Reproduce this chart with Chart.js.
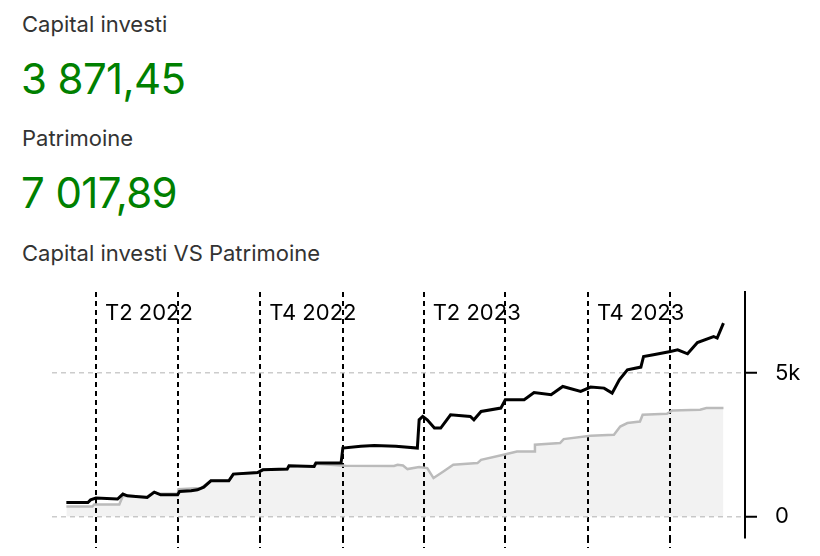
<!DOCTYPE html>
<html lang="fr">
<head>
<meta charset="utf-8">
<title>Capital investi VS Patrimoine</title>
<script src="https://cdn.jsdelivr.net/npm/chart.js@4"></script>
<style>
    html, body { margin: 0; padding: 0; background: #fff; }
    body { width: 820px; height: 556px; position: relative; overflow: hidden; font-family: Inter, "Noto Sans", sans-serif; }
    .label { position: absolute; left: 22px; font-size: 22px; line-height: 22px; color: #333; white-space: nowrap; }
    .value { position: absolute; left: 21px; font-size: 42px; line-height: 42px; letter-spacing: -0.6px; color: #008000; white-space: nowrap; }
    #chartBox { position: absolute; left: 0; top: 282px; width: 820px; height: 274px; }
</style>
</head>
<body>
<div class="label" style="top:13px">Capital investi</div>
<div class="value" style="top:58px">3&nbsp;871,45</div>
<div class="label" style="top:127px">Patrimoine</div>
<div class="value" style="top:172px">7&nbsp;017,89</div>
<div class="label" style="top:242px">Capital investi VS Patrimoine</div>
<div id="chartBox"><canvas id="chart"></canvas></div>

<script>
// dates -> day numbers counted from 1 April 2022
const origin = Date.UTC(2022, 3, 1);
function dayOf(s) {
    const [y, m, d] = s.split('-').map(Number);
    return (Date.UTC(y, m - 1, d) - origin) / 86400000;
}

const xMinDate = '2022-02-11';
const xMaxDate = '2024-03-24';
const quarterStarts = ['2022-04-01', '2022-07-01', '2022-10-01', '2023-01-01', '2023-04-01', '2023-07-01', '2023-10-01', '2024-01-01'];
const quarterLabelDates = ['2022-04-01', '2022-10-01', '2023-04-01', '2023-10-01'];
const quarterLabels = ['T2 2022', 'T4 2022', 'T2 2023', 'T4 2023'];

const yTickValues = [0, 5000];
const yTickLabels = ['0', '5k'];

const capitalDates = [
    '2022-02-27', '2022-03-28', '2022-03-30', '2022-04-27', '2022-05-01', '2022-05-28', '2022-06-04', '2022-06-12',
    '2022-07-01', '2022-07-02', '2022-07-27', '2022-08-07', '2022-08-27', '2022-09-01', '2022-09-28', '2022-10-03',
    '2022-10-31', '2022-11-02', '2022-11-30', '2022-12-01', '2023-01-04', '2023-02-27', '2023-03-03', '2023-03-09',
    '2023-03-14', '2023-03-27', '2023-04-05', '2023-04-12', '2023-04-23', '2023-05-04', '2023-05-31', '2023-06-04',
    '2023-06-29', '2023-07-14', '2023-08-02', '2023-08-03', '2023-08-31', '2023-09-04', '2023-10-04', '2023-10-30',
    '2023-11-06', '2023-11-14', '2023-11-28', '2023-12-01', '2023-12-28', '2024-01-03', '2024-02-03', '2024-02-10',
    '2024-02-29'
];
const capitalValues = [
    349, 349, 420, 420, 720, 690, 850, 790,
    790, 950, 990, 1245, 1245, 1479, 1520, 1629,
    1640, 1760, 1744, 1840, 1770, 1760, 1803, 1780,
    1653, 1723, 1688, 1339, 1570, 1803, 1862, 1978,
    2152, 2267, 2267, 2501, 2560, 2700, 2815, 2850,
    3139, 3258, 3314, 3547, 3582, 3697, 3722, 3781,
    3781
];

const patrimoineDates = [
    '2022-02-27', '2022-03-23', '2022-03-26', '2022-04-01', '2022-04-25', '2022-05-01', '2022-05-06', '2022-05-28',
    '2022-06-05', '2022-06-12', '2022-07-01', '2022-07-03', '2022-07-16', '2022-07-23', '2022-07-30', '2022-08-07',
    '2022-08-27', '2022-09-01', '2022-09-28', '2022-10-04', '2022-10-31', '2022-11-02', '2022-11-30', '2022-12-02',
    '2022-12-30', '2023-01-01', '2023-01-21', '2023-02-05', '2023-03-01', '2023-03-25', '2023-03-27', '2023-03-31',
    '2023-04-05', '2023-04-13', '2023-04-20', '2023-05-01', '2023-05-23', '2023-05-27', '2023-06-04', '2023-06-26',
    '2023-07-01', '2023-07-22', '2023-08-02', '2023-08-21', '2023-09-03', '2023-09-23', '2023-10-04', '2023-10-19',
    '2023-10-28', '2023-11-05', '2023-11-14', '2023-11-29', '2023-12-02', '2023-12-13', '2024-01-01', '2024-01-09',
    '2024-01-20', '2024-01-31', '2024-02-18', '2024-02-22', '2024-02-29'
];
const patrimoineValues = [
    488, 488, 580, 642, 607, 781, 720, 663,
    851, 757, 757, 872, 895, 931, 1025, 1245,
    1245, 1479, 1535, 1629, 1653, 1768, 1744, 1862,
    1862, 2386, 2450, 2476, 2450, 2386, 3373, 3488,
    3373, 3083, 3083, 3547, 3488, 3373, 3662, 3781,
    4070, 4070, 4325, 4245, 4534, 4360, 4513, 4478,
    4304, 4768, 5117, 5211, 5581, 5640, 5755, 5814,
    5675, 6069, 6278, 6222, 6746
];

const toPoints = (dates, values) => dates.map((d, i) => ({ x: dayOf(d), y: values[i] }));

// quarter names written at the top of the plot, just right of their line
const quarterLabelPlugin = {
    id: 'quarterLabels',
    beforeDatasetsDraw(chart) {
        const { ctx, chartArea, scales } = chart;
        ctx.save();
        ctx.font = '22px Inter, "Noto Sans", sans-serif';
        ctx.fillStyle = '#000';
        ctx.textBaseline = 'middle';
        ctx.textAlign = 'left';
        quarterLabels.forEach((label, i) => {
            const x = scales.x.getPixelForValue(dayOf(quarterLabelDates[i])) + 9;
            ctx.fillText(label, x, chartArea.top + 21);
        });
        ctx.restore();
    }
};

new Chart(document.getElementById('chart'), {
    type: 'line',
    data: {
        datasets: [
            {
                label: 'Patrimoine',
                data: toPoints(patrimoineDates, patrimoineValues),
                borderColor: '#000',
                borderWidth: 3,
                pointRadius: 0,
                tension: 0,
                fill: false
            },
            {
                label: 'Capital investi',
                data: toPoints(capitalDates, capitalValues),
                borderColor: '#bbb',
                borderWidth: 2.5,
                backgroundColor: 'rgba(0, 0, 0, 0.05)',
                pointRadius: 0,
                tension: 0,
                fill: 'origin'
            }
        ]
    },
    options: {
        responsive: true,
        maintainAspectRatio: false,
        animation: false,
        layout: { padding: { left: 52, top: 10, right: 0, bottom: 0 } },
        plugins: {
            legend: { display: false },
            tooltip: { enabled: false }
        },
        scales: {
            x: {
                type: 'linear',
                min: dayOf(xMinDate),
                max: dayOf(xMaxDate),
                afterBuildTicks: (scale) => {
                    scale.ticks = quarterStarts.map(d => ({ value: dayOf(d) }));
                },
                afterFit: (scale) => {
                    scale.height = 18;
                    scale.paddingLeft = 0;
                    scale.paddingRight = 0;
                },
                ticks: { display: false },
                grid: {
                    color: '#000',
                    lineWidth: 2,
                    tickLength: 10,
                    tickColor: '#000',
                    tickWidth: 2,
                    tickBorderDash: [5, 4]
                },
                border: { display: false, dash: [5, 4] }
            },
            y: {
                position: 'right',
                min: -750,
                max: 7830,
                afterBuildTicks: (scale) => {
                    scale.ticks = yTickValues.map(v => ({ value: v }));
                },
                afterFit: (scale) => {
                    scale.width = 75;
                    scale.paddingTop = 0;
                    scale.paddingBottom = 0;
                },
                ticks: {
                    padding: 18,
                    color: '#000',
                    font: { family: 'Inter, "Noto Sans", sans-serif', size: 22 },
                    callback: (value, index) => yTickLabels[index]
                },
                grid: {
                    color: '#ccc',
                    lineWidth: 1.5,
                    tickLength: 12,
                    tickColor: '#000',
                    tickWidth: 2,
                    tickBorderDash: []
                },
                border: { display: true, color: '#000', width: 2, dash: [5, 4] }
            }
        }
    },
    plugins: [quarterLabelPlugin]
});
</script>
</body>
</html>
